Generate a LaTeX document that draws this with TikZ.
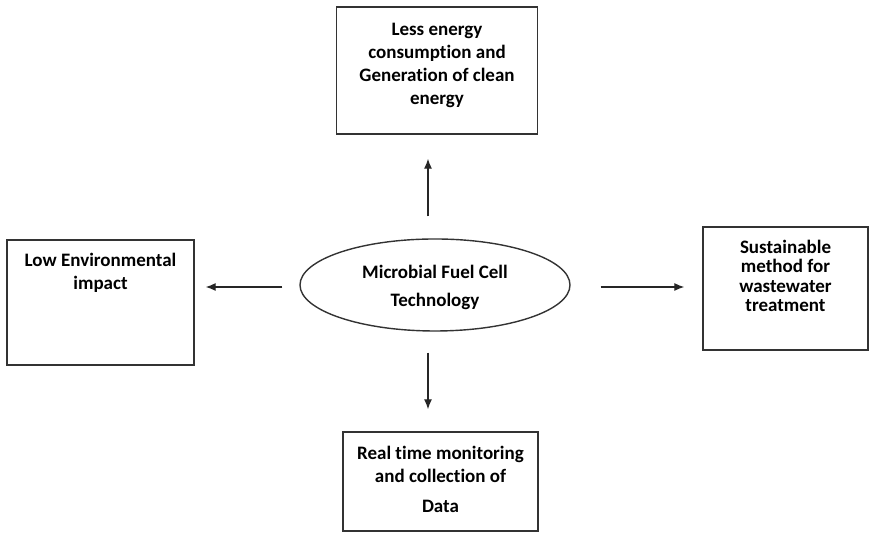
\documentclass[tikz,border=0pt]{standalone}
\usepackage{fontspec}
\setmainfont{Carlito}[Ligatures=NoCommon]
\usetikzlibrary{shapes.geometric,arrows.meta}
\begin{document}
\begin{tikzpicture}[x=1pt,y=1pt,font=\fontsize{19}{23}\selectfont\bfseries,
  box/.style={draw=black!80,line width=1.4pt,align=center,inner sep=0pt},
  arr/.style={-{Latex[length=10pt,width=8pt]},line width=1.2pt,draw=black!85}]
\useasboundingbox (0,0) rectangle (871,534);
\node[ellipse,draw=black!80,line width=1.4pt,minimum width=270,minimum height=92,align=center,inner sep=0pt] (mfc) at (435,249) {Microbial Fuel Cell\\[5pt]Technology\\[-25pt]};
\node[box,minimum width=201,minimum height=127] (less) at (437,463.5) {Less energy\\consumption and\\Generation of clean\\energy\\[-9pt]};
\node[box,minimum width=187,minimum height=125] (low) at (100.5,231.5) {Low Environmental\\impact\\[40pt]};
\node[box,minimum width=165,minimum height=123,font=\fontsize{19}{19.5}\selectfont\bfseries] (sust) at (785.5,245.5) {Sustainable\\method for\\wastewater\\treatment\\[5.5pt]};
\node[box,minimum width=195,minimum height=99] (real) at (440.5,52.5) {Real time monitoring\\and collection of\\[7pt]Data\\[-18pt]};
\draw[arr,shorten <=22pt,shorten >=24pt] ([xshift=-7pt]mfc.north) -- ([xshift=-7pt]mfc.north |- less.south);
\draw[arr,shorten <=21pt,shorten >=22pt] ([xshift=-7pt]mfc.south) -- ([xshift=-7pt]mfc.south |- real.north);
\draw[arr,shorten <=17pt,shorten >=11pt] ([yshift=-2pt]mfc.west) -- ([yshift=-2pt]mfc.west -| low.east);
\draw[arr,shorten <=30pt,shorten >=18pt] ([yshift=-2pt]mfc.east) -- ([yshift=-2pt]mfc.east -| sust.west);
\end{tikzpicture}
\end{document}
